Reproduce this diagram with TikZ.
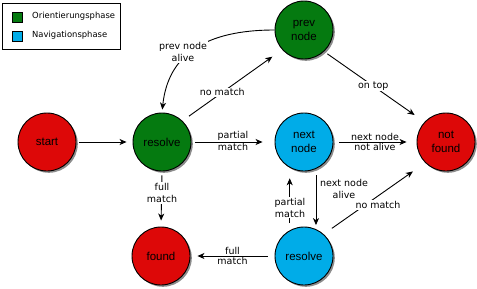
\documentclass[tikz,border=0pt]{standalone}
\usepackage{fontspec}
\setmainfont{DejaVu Sans}
\newfontfamily\circfont{Liberation Sans}
\usetikzlibrary{arrows.meta,shadows}
\definecolor{stred}{RGB}{221,8,8}
\definecolor{stgreen}{RGB}{5,122,16}
\definecolor{stblue}{RGB}{0,172,232}
\begin{document}
\begin{tikzpicture}[x=1pt,y=-1pt,
  state/.style={circle,draw=black,line width=0.9pt,minimum size=58pt,inner sep=0pt,align=center,
    font=\circfont\fontsize{11.5}{14}\selectfont,
    drop shadow={shadow xshift=1.8pt,shadow yshift=-1.8pt,fill=black!45,opacity=1}},
  conn/.style={draw=black,line width=0.9pt,-{Stealth[length=7pt,width=6pt,inset=2pt]}},
  lbl/.style={font=\fontsize{9.5}{12}\selectfont,align=center,inner sep=1pt},
  lblw/.style={lbl,fill=white},
  swatch/.style={draw=black,line width=0.9pt,minimum size=10pt,inner sep=0pt},
  legtext/.style={anchor=west,font=\fontsize{8.4}{10}\selectfont,inner sep=0pt}]
\useasboundingbox (0,0) rectangle (477,289);

% legend
\node[draw=black,line width=0.9pt,minimum width=118pt,minimum height=46pt,inner sep=0pt] (legend) at (61,26) {};
\node[swatch,fill=stgreen] (swg) at (17,17) {};
\node[swatch,fill=stblue] (swb) at (17,36) {};
\node[legtext] (tg) at (32,16) {Orientierungsphase};
\node[legtext] (tb) at (32,35) {Navigationsphase};

% states
\node[state,fill=stred] (start) at (47,142) {start};
\node[state,fill=stgreen] (res1) at (162,142) {resolve};
\node[state,fill=stblue] (next) at (304,142) {next\\node};
\node[state,fill=stred] (nf) at (446,142) {not\\found};
\node[state,fill=stgreen] (prev) at (304,30) {prev\\node};
\node[state,fill=stred] (found) at (161,256) {found};
\node[state,fill=stblue] (res2) at (304,256) {resolve};

% connectors
\draw[conn,shorten <=3pt,shorten >=6pt] (start) -- (res1);
\draw[conn,shorten <=4pt,shorten >=12pt] (res1) -- (next)
  node[lbl,above,pos=0.5] (lpm1) {partial} node[lbl,below,pos=0.5] (lpm2) {match};
\draw[conn,shorten <=6pt,shorten >=10pt] (next) -- (nf)
  node[lbl,above,pos=0.5] (lnn1) {next node} node[lbl,below,pos=0.5] (lnn2) {not alive};
\draw[conn,shorten <=4pt,shorten >=12pt] (prev.-47) -- (nf.137)
  node[lblw,pos=0.49] (lontop) {on top};
\draw[conn,shorten <=8pt,shorten >=12pt] (res1.46) -- (prev.222)
  node[lblw,pos=0.4] (lnm1) {no match};
\draw[conn,shorten >=3pt] (prev.west) .. controls (205,30) and (168,55) .. (res1.north);
\node[lblw] (lpa) at (183,52) {prev node\\alive};
\draw[conn,shorten <=4pt,shorten >=6pt] (res1.south) -- (found.north);
\node[lblw] (lfm1) at (162,193) {full\\match};
\draw[conn,shorten <=7pt,shorten >=7pt] (res2) -- (found)
  node[lbl,above,pos=0.5] (lfm2a) {full} node[lbl,below,pos=0.5] (lfm2b) {match};
\draw[conn,shorten <=6.5pt,shorten >=4pt] (next.294) -- (res2.66);
\node[lbl] (lna) at (344,189) {next node\\alive};
\draw[conn,shorten <=7pt,shorten >=10.5pt] (res2.119) -- (next.241);
\node[lblw] (lpm3) at (290,207.5) {partial\\match};
\draw[conn,shorten <=10pt,shorten >=15pt] (res2.48) -- (nf.225);
\node[lblw] (lnm2) at (378,205) {no match};
\end{tikzpicture}
\end{document}
